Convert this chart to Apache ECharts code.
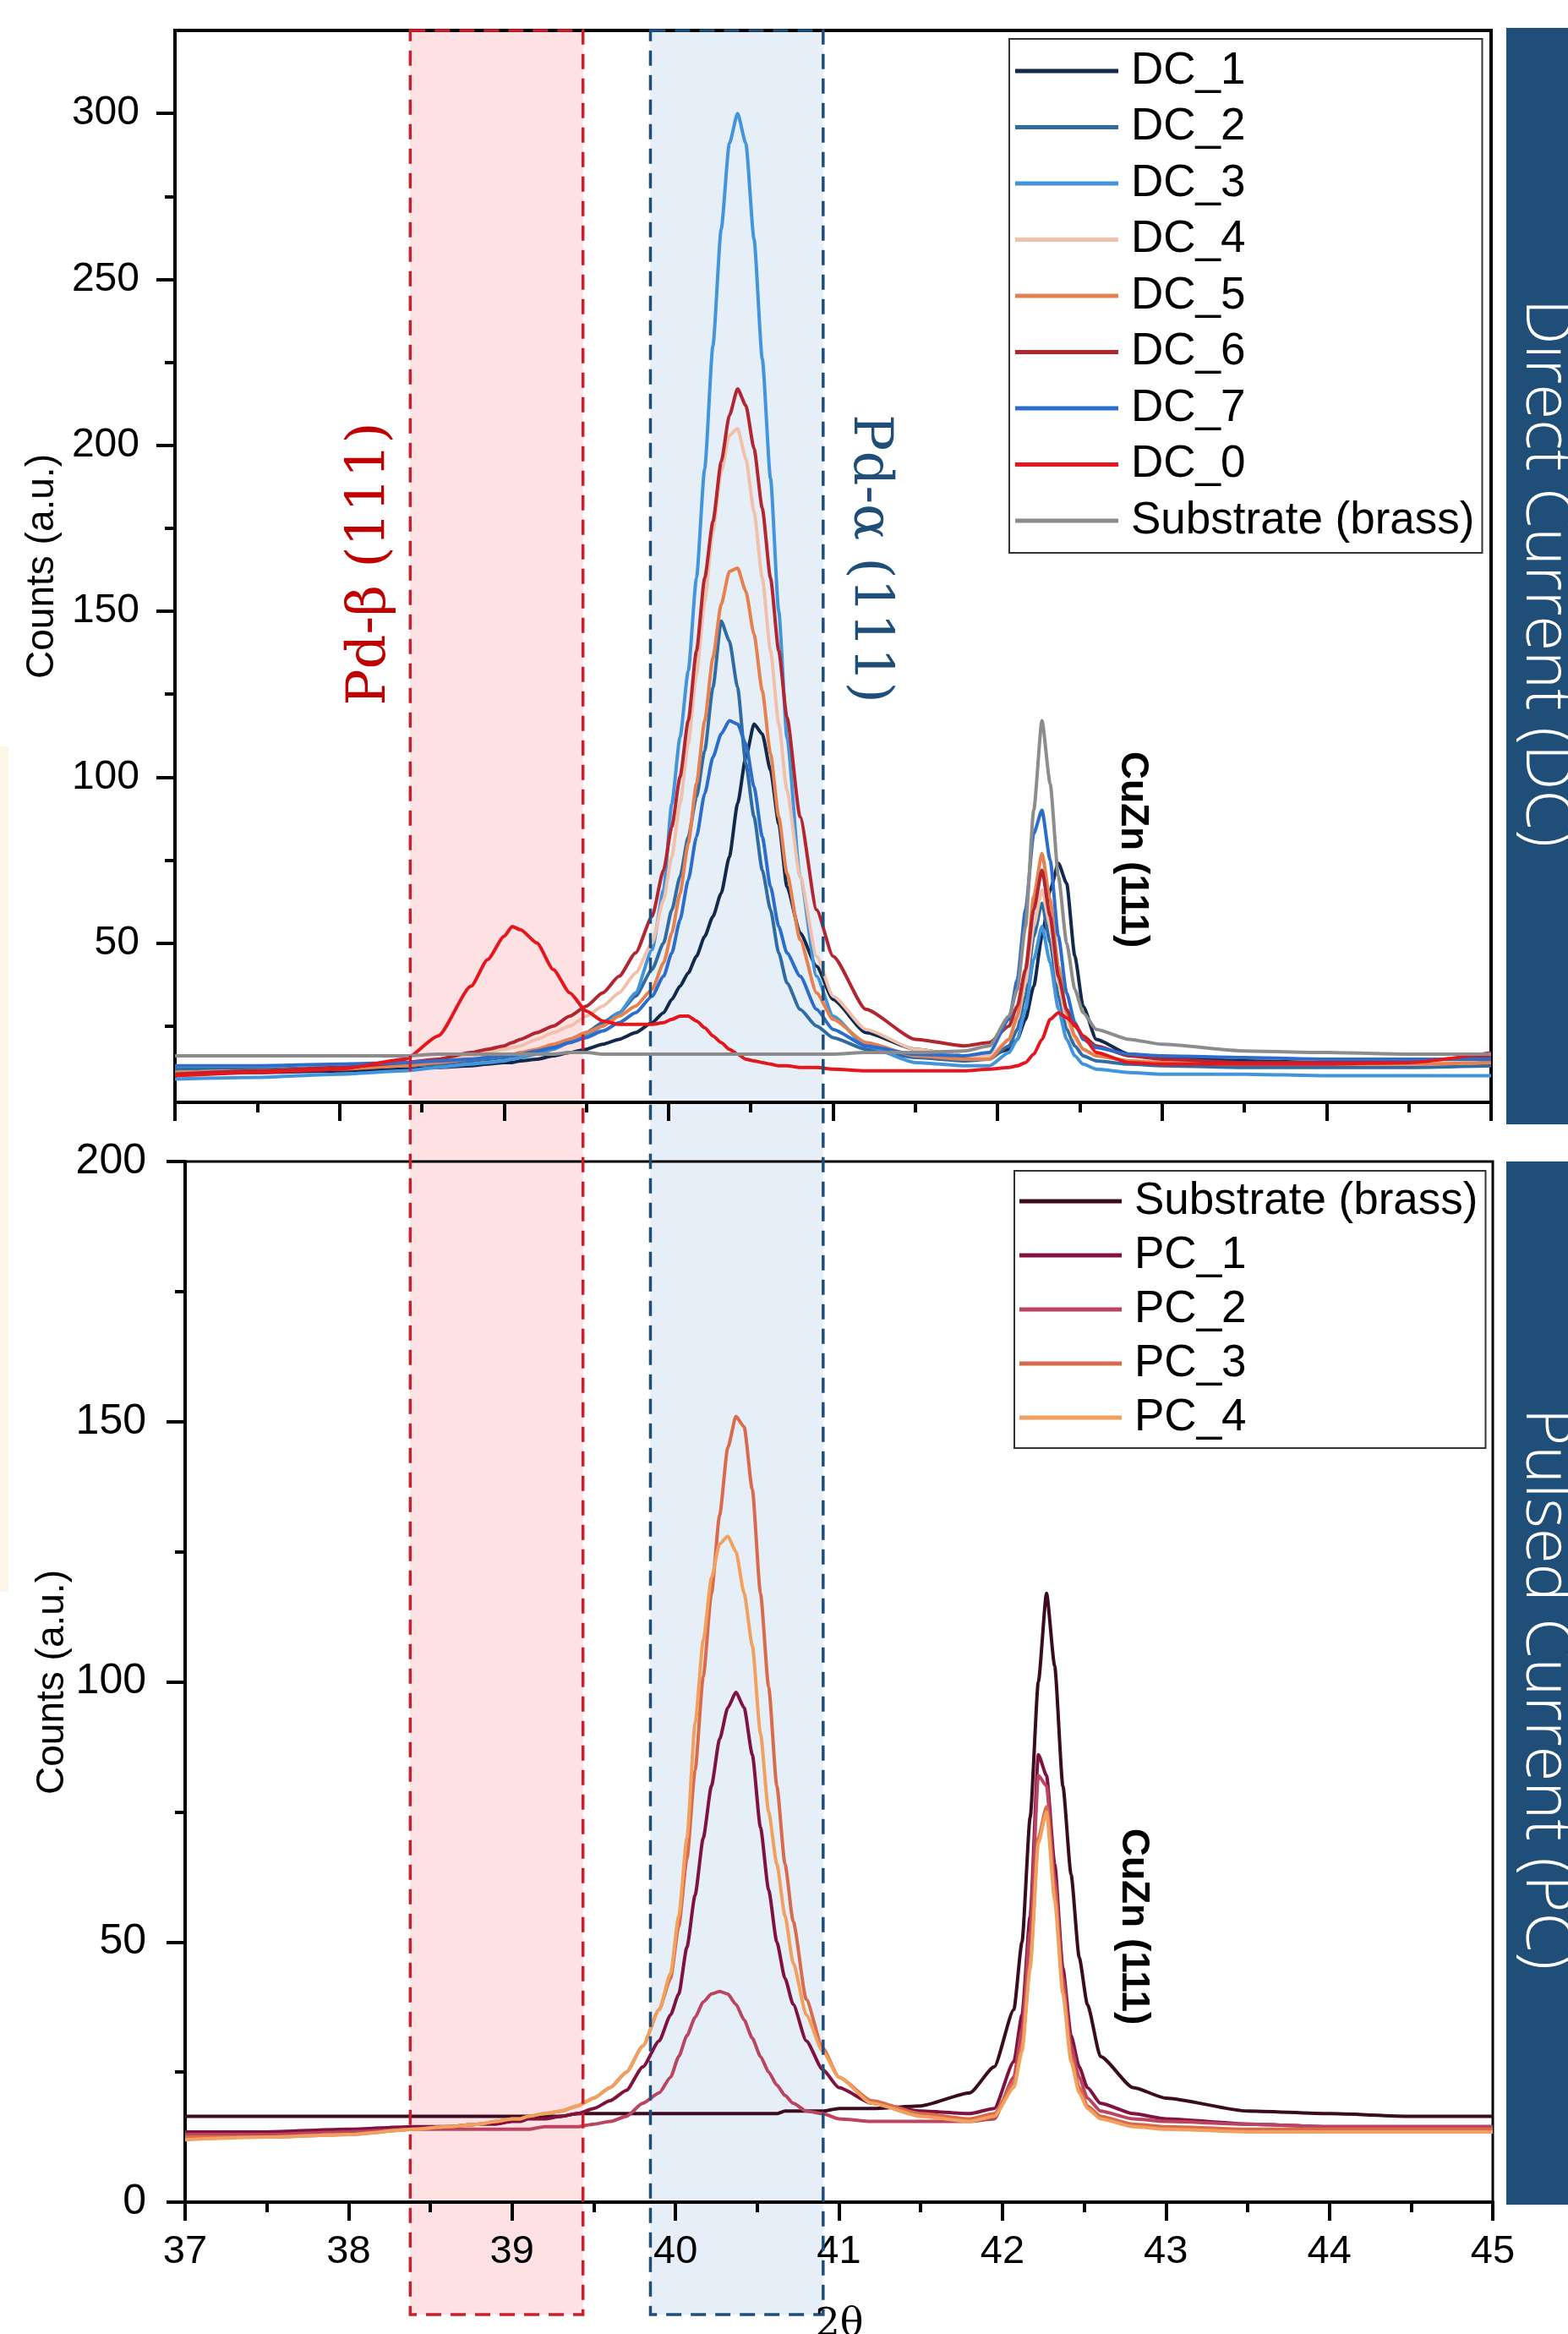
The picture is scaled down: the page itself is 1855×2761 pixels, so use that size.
<!DOCTYPE html>
<html>
<head>
<meta charset="utf-8">
<title>XRD DC / PC</title>
<script src="https://cdn.jsdelivr.net/npm/echarts@6/dist/echarts.min.js"></script>
<style>
  html, body { margin: 0; padding: 0; background: #fff; }
  #chart-show { width: 1855px; height: 2761px; }
</style>
</head>
<body>
<div id="chart-show"></div>
<script>
// 2theta sampling points (shared by all curves)
var twoTheta = [
  37.0, 37.5, 38.0, 38.4, 38.6, 38.8, 38.9, 39.0, 39.05, 39.1,
  39.2, 39.3, 39.4, 39.5, 39.6, 39.7, 39.8, 39.9, 39.97, 40.02,
  40.07, 40.12, 40.17, 40.22, 40.27, 40.32, 40.37, 40.42, 40.47, 40.52,
  40.57, 40.62, 40.67, 40.72, 40.8, 40.9, 41.0, 41.2, 41.5, 41.8,
  41.95, 42.07, 42.12, 42.17, 42.22, 42.27, 42.32, 42.37, 42.42, 42.47,
  42.52, 42.6, 42.8, 43.0, 43.5, 44.0, 44.5, 45.0
];

// direct current panel
var dc1 = [
  11, 11, 11.5, 12, 12.5, 13, 13.5, 14, 14, 14.5,
  15, 16, 17, 18, 19.5, 21, 23, 26, 29, 33,
  37, 41, 46, 52, 58, 65, 76, 92, 106, 116,
  113, 102, 86, 67, 53, 43, 33, 23, 18, 16,
  16, 18, 21, 27, 37, 52, 66, 74, 68, 46,
  31, 21, 16.5, 15.5, 14.5, 14, 14, 14
];
var dc2 = [
  12, 12, 12.5, 13, 13.5, 14.5, 15, 15.5, 16, 16.5,
  17.5, 19, 21, 23, 26, 29, 34, 42, 50, 60,
  70, 82, 94, 108, 127, 147, 141, 127, 104, 88,
  72, 60, 47, 38, 30, 25, 21.5, 18, 15.5, 14.5,
  15, 19, 24, 34, 52, 62, 50, 34, 24, 19,
  16, 14.5, 13.5, 13, 12.5, 12.5, 12.5, 13
];
var dc3 = [
  9, 9.5, 10.5, 11.5, 12.5, 13.5, 14, 14.5, 15, 15.5,
  16.5, 18, 20, 22, 25, 29, 35, 48, 66, 92,
  112, 132, 160, 193, 230, 265, 291, 300, 291, 262,
  226, 190, 150, 112, 70, 40, 28, 19, 14, 13,
  13, 17, 21, 30, 45, 55, 44, 30, 21, 16,
  13.5, 12, 11, 10.5, 10.5, 10, 10, 10
];
var dc4 = [
  11, 11.5, 12.5, 13.5, 14.5, 16, 17, 18, 18.5, 19,
  21, 23, 25, 28, 31, 35, 41, 50, 63, 76,
  92, 110, 131, 153, 174, 192, 203, 205, 196, 180,
  160, 138, 116, 96, 70, 46, 34, 24, 18, 16,
  16, 21, 27, 38, 55, 66, 55, 38, 27, 21,
  18, 16, 14.5, 14, 13.5, 13.5, 14, 15
];
var dc5 = [
  11, 11.5, 12, 13, 14, 15, 15.5, 16, 16.5, 17,
  18, 19.5, 21, 23, 25, 28, 31, 36, 44, 53,
  65, 80, 98, 117, 136, 152, 162, 163, 156, 143,
  126, 107, 88, 71, 51, 35, 27, 20, 16, 15,
  15, 21, 28, 42, 64, 77, 63, 43, 29, 22,
  18, 16, 14.5, 14, 13.5, 13.5, 13.5, 14
];
var dc6 = [
  10.5, 11.5, 12.5, 14, 15, 17, 18, 19, 20, 21,
  23, 25, 28, 31, 35, 40, 47, 58, 72, 85,
  100, 117, 138, 160, 177, 195, 209, 217, 212, 199,
  181, 160, 138, 118, 88, 60, 46, 30, 21, 19,
  20, 25, 31, 42, 60, 72, 58, 40, 30, 25,
  22, 19, 16, 15, 14, 14, 14.5, 16
];
var dc7 = [
  13, 13, 13.5, 14, 14.5, 15, 15.5, 16, 16, 16.5,
  17.5, 18.5, 20, 21.5, 23.5, 26, 29, 34, 40, 47,
  57, 69, 82, 95, 106, 113, 117, 116, 110, 97,
  82, 67, 55, 47, 40, 30, 24, 19, 16.5, 16,
  17, 27, 39, 60, 83, 90, 75, 52, 35, 26,
  21, 18.5, 16.5, 16, 15.5, 15, 15, 15
];
var dc0 = [
  10, 11, 12, 15, 22, 37, 45, 52, 55, 54,
  50, 42, 35, 29.5, 26.5, 25.5, 25.5, 25.5, 26, 27,
  28, 28, 26.5, 24.5, 22, 20, 18, 16.5, 15, 14.5,
  14, 13.5, 13, 13, 12.5, 12.5, 12, 11.5, 11.5, 11.5,
  12, 12.5, 13, 14, 16.5, 21, 27, 29, 27.5, 25.5,
  22, 17, 14, 13.5, 13.5, 13.5, 14, 17
];
var dcSub = [
  16, 16, 16, 16, 16.5, 16.5, 16.5, 16.5, 16.5, 16.5,
  16.5, 16.5, 17, 17, 16.5, 16.5, 16.5, 16.5, 16.5, 16.5,
  16.5, 16.5, 16.5, 16.5, 16.5, 16.5, 16.5, 16.5, 16.5, 16.5,
  16.5, 16.5, 16.5, 16.5, 16.5, 16.5, 16.5, 17, 17, 17.5,
  19, 28, 36, 55, 90, 117, 98, 70, 50, 36,
  29, 24, 21, 19.5, 17.5, 17, 16.5, 16.5
];

// pulsed current panel
var pcSub = [
  16.5, 16.5, 16.5, 16.5, 16.5, 16.5, 16.5, 16.5, 16.5, 16.5,
  16.5, 16.5, 17, 17, 17, 17, 17, 17, 17, 17,
  17, 17, 17, 17, 17, 17, 17, 17, 17, 17,
  17, 17, 17.5, 17.5, 17.5, 17.5, 18, 18, 18.5, 21,
  26, 37, 50, 74, 100, 117, 103, 80, 63, 47,
  38, 28, 22, 20, 17.5, 17, 16.5, 16.5
];
var pc1 = [
  13.5, 13.5, 14, 14.5, 14.5, 15, 15, 15.5, 15.5, 16,
  16, 16.5, 17, 18, 19.5, 21.5, 26, 31, 36, 40,
  49, 59, 70, 80, 89, 95, 98, 95, 86, 72,
  60, 50, 43, 38, 31, 25.5, 22, 19, 17.5, 17,
  18, 27, 36, 55, 86, 82, 65, 45, 32, 26,
  22, 19, 17, 16, 15, 14.5, 14.5, 14.5
];
var pc2 = [
  13, 13, 13.5, 14, 14, 14, 14, 14, 14, 14,
  14.5, 14.5, 14.5, 15, 15.5, 16.5, 19, 21, 24, 28,
  32, 35.5, 38.5, 40, 40.5, 40, 38, 35, 31.5, 28,
  25, 22.5, 20.5, 19, 17.5, 17, 16, 15.5, 15.5, 15.5,
  16, 24, 33, 52, 82, 80, 62, 43, 30, 24,
  20, 17.5, 16, 15.5, 15, 14.5, 14.5, 14.5
];
var pc3 = [
  12.5, 12.5, 13, 14, 14.5, 15, 15.5, 16, 16, 16.5,
  17, 17.5, 18.5, 20, 22, 25, 30, 37, 43, 53,
  66, 83, 101, 117, 132, 145, 151, 149, 137, 117,
  99, 80, 65, 54, 39, 29.6, 24, 19.5, 17, 16,
  17, 23, 30, 46, 70, 76, 60, 41, 28, 22,
  18.5, 16.5, 15, 14.5, 14, 14, 14, 14
];
var pc4 = [
  12, 12.5, 13, 14, 14.5, 15, 15.5, 16, 16, 16.5,
  17, 17.5, 18.5, 20, 22, 25, 30, 37, 44, 55,
  70, 92, 108, 120, 126.5, 128, 125, 117, 107, 90,
  75, 65, 55, 46, 36, 29, 24, 19, 16.5, 15.5,
  16.5, 22, 29, 45, 69, 75, 58, 40, 27, 21,
  18, 16, 14.5, 14, 13.5, 13.5, 13.5, 13.5
];

var dcNames = ['DC_1', 'DC_2', 'DC_3', 'DC_4', 'DC_5', 'DC_6', 'DC_7', 'DC_0', 'Substrate (brass)'];
var dcColors = ['#11294c', '#2e6ca3', '#4294dd', '#f1c0aa', '#e6814f', '#b3262f', '#2b6dcd', '#e3171d', '#8c8c8c'];
var dcData = [dc1, dc2, dc3, dc4, dc5, dc6, dc7, dc0, dcSub];

var pcNames = ['Substrate (brass)', 'PC_1', 'PC_2', 'PC_3', 'PC_4'];
var pcColors = ['#3b0b20', '#80123f', '#bb4560', '#da6a4c', '#f2a05e'];
var pcData = [pcSub, pc1, pc2, pc3, pc4];

var yTopMajor = [50, 100, 150, 200, 250, 300];
var yTopMinor = [25, 75, 125, 175, 225, 275];

// shaded 2theta windows (read on the upper axis)
var betaBox = [38.43, 39.48];
var alphaBox = [39.89, 40.94];

var FONT = '"Liberation Sans", Arial, sans-serif';

window.onload = all;
function all() {
    myXrdChart();
}

function pairs(arr) {
    return twoTheta.map(function (t, i) { return [t, arr[i]]; });
}

function lineSeries(name, color, arr, xi, yi) {
    return {
        type: 'line', name: name, xAxisIndex: xi, yAxisIndex: yi,
        data: pairs(arr), showSymbol: false, symbol: 'none',
        smooth: 0.2, smoothMonotone: 'x',
        lineStyle: { color: color, width: 4 }, itemStyle: { color: color },
        z: 3, silent: true
    };
}

function myXrdChart() {
    var myChart = echarts.init(document.getElementById('chart-show'));

    var axisLine = { show: true, onZero: false, lineStyle: { color: '#000', width: 4 } };
    var tickStyle = { color: '#000', width: 4 };

    var series = [];
    dcNames.forEach(function (n, i) { series.push(lineSeries(n, dcColors[i], dcData[i], 0, 0)); });
    pcNames.forEach(function (n, i) { series.push(lineSeries(n, pcColors[i], pcData[i], 1, 2)); });

    var legendText = { fontSize: 53, fontFamily: FONT, color: '#000', lineHeight: 56, padding: [0, 0, 0, 10] };

    var option = {
        animation: false,
        backgroundColor: '#fff',
        grid: [
            { left: 207, top: 36, width: 1557, height: 1268, show: true, borderColor: '#000', borderWidth: 4, backgroundColor: 'transparent' },
            { left: 219, top: 1374, width: 1547, height: 1231, show: true, borderColor: '#000', borderWidth: 3, backgroundColor: 'transparent' }
        ],
        xAxis: [
            {
                gridIndex: 0, type: 'value', min: 37, max: 45, interval: 1,
                axisLine: axisLine,
                axisTick: { length: 22, lineStyle: tickStyle },
                minorTick: { show: true, splitNumber: 2, length: 12, lineStyle: tickStyle },
                axisLabel: { show: false }, splitLine: { show: false }
            },
            {
                gridIndex: 1, type: 'value', min: 37, max: 45, interval: 1,
                axisLine: axisLine,
                axisTick: { length: 22, lineStyle: tickStyle },
                minorTick: { show: true, splitNumber: 2, length: 12, lineStyle: tickStyle },
                axisLabel: { fontSize: 47, fontFamily: FONT, color: '#000', margin: 36 },
                splitLine: { show: false }
            }
        ],
        yAxis: [
            {
                gridIndex: 0, type: 'value', min: 2, max: 325, position: 'left',
                axisLine: axisLine,
                axisTick: { customValues: yTopMajor, length: 22, lineStyle: tickStyle },
                axisLabel: { customValues: yTopMajor, fontSize: 48, fontFamily: FONT, color: '#000', margin: 42 },
                splitLine: { show: false }
            },
            {
                // minor ticks of the upper panel
                gridIndex: 0, type: 'value', min: 2, max: 325, position: 'left',
                axisLine: { show: false },
                axisTick: { customValues: yTopMinor, length: 12, lineStyle: tickStyle },
                axisLabel: { show: false }, splitLine: { show: false }
            },
            {
                gridIndex: 1, type: 'value', min: 0, max: 200, interval: 50, position: 'left',
                axisLine: axisLine,
                axisTick: { length: 22, lineStyle: tickStyle },
                minorTick: { show: true, splitNumber: 2, length: 12, lineStyle: tickStyle },
                axisLabel: { fontSize: 50, fontFamily: FONT, color: '#000', margin: 46 },
                splitLine: { show: false }
            }
        ],
        legend: [
            {
                data: dcNames.map(function (n, i) { return { name: n, itemStyle: { color: dcColors[i] } }; }),
                orient: 'vertical', left: 1194, top: 46,
                icon: 'rect', itemWidth: 122, itemHeight: 5, itemGap: 10.5,
                padding: [10, 9, 10, 7], borderColor: '#333', borderWidth: 2,
                backgroundColor: '#fff', textStyle: legendText, selectedMode: false
            },
            {
                data: pcNames.map(function (n, i) { return { name: n, itemStyle: { color: pcColors[i] } }; }),
                orient: 'vertical', left: 1200, top: 1385,
                icon: 'rect', itemWidth: 121, itemHeight: 5, itemGap: 8,
                padding: [8, 9, 8, 6], borderColor: '#333', borderWidth: 2,
                backgroundColor: '#fff', textStyle: legendText, selectedMode: false
            }
        ],
        series: series
    };
    myChart.setOption(option);

    // annotation boxes, placed with the upper x axis
    var bx0 = myChart.convertToPixel({ xAxisIndex: 0 }, betaBox[0]);
    var bx1 = myChart.convertToPixel({ xAxisIndex: 0 }, betaBox[1]);
    var ax0 = myChart.convertToPixel({ xAxisIndex: 0 }, alphaBox[0]);
    var ax1 = myChart.convertToPixel({ xAxisIndex: 0 }, alphaBox[1]);
    var boxTop = 36, boxBottom = 2738;

    function txt(x, y, rot, text, font, color, va) {
        return {
            type: 'text', x: x, y: y, rotation: rot, z: 6,
            style: { text: text, font: font, fill: color, align: 'center', verticalAlign: va || 'middle',
                     textAlign: 'center', textVerticalAlign: va || 'middle' }
        };
    }

    myChart.setOption({
        graphic: [
            { type: 'rect', z: -5, shape: { x: 0, y: 883, width: 10, height: 1000 }, style: { fill: '#fdf6e6' } },
            { type: 'rect', z: -5, shape: { x: bx0, y: boxTop, width: bx1 - bx0, height: boxBottom - boxTop }, style: { fill: '#fde1e3' } },
            { type: 'rect', z: -5, shape: { x: ax0, y: boxTop, width: ax1 - ax0, height: boxBottom - boxTop }, style: { fill: '#e6eff7' } },
            { type: 'rect', z: 5, shape: { x: bx0, y: boxTop, width: bx1 - bx0, height: boxBottom - boxTop },
              style: { fill: 'none', stroke: '#c8202e', lineWidth: 3.5, lineDash: [18, 11] } },
            { type: 'rect', z: 5, shape: { x: ax0, y: boxTop, width: ax1 - ax0, height: boxBottom - boxTop },
              style: { fill: 'none', stroke: '#1f4e79', lineWidth: 3.5, lineDash: [18, 11] } },
            // side banners
            { type: 'rect', z: 4, shape: { x: 1782, y: 33, width: 73, height: 1297 }, style: { fill: '#1f4e79' } },
            { type: 'rect', z: 4, shape: { x: 1782, y: 1374, width: 73, height: 1234 }, style: { fill: '#1f4e79' } },
            txt(1828, 678, -Math.PI / 2, 'Direct Current (DC)', '300 76px "Open Sans", sans-serif', '#fff'),
            txt(1828, 1998, -Math.PI / 2, 'Pulsed Current (PC)', '300 76px "Open Sans", sans-serif', '#fff'),
            // axis titles
            txt(50, 670, Math.PI / 2, 'Counts (a.u.)', '46px ' + FONT, '#000'),
            txt(62, 1990, Math.PI / 2, 'Counts (a.u.)', '46px ' + FONT, '#000'),
            txt(993, 2728, 0, '2θ', '46px "DejaVu Serif", serif', '#000', 'top'),
            // peak labels
            txt(438, 667, Math.PI / 2, 'Pd-β (111)', '64px "DejaVu Serif", serif', '#c00000'),
            txt(1028, 661, -Math.PI / 2, 'Pd-α (111)', '64px "DejaVu Serif", serif', '#1f4e79'),
            txt(1340, 1005, -Math.PI / 2, 'CuZn (111)', 'bold 46px ' + FONT, '#000'),
            txt(1341, 2279, -Math.PI / 2, 'CuZn (111)', 'bold 46px ' + FONT, '#000')
        ]
    });

    setTimeout(function () {
        window.onresize = function () {
            myChart.resize();
        };
    }, 200);
}
</script>
</body>
</html>
